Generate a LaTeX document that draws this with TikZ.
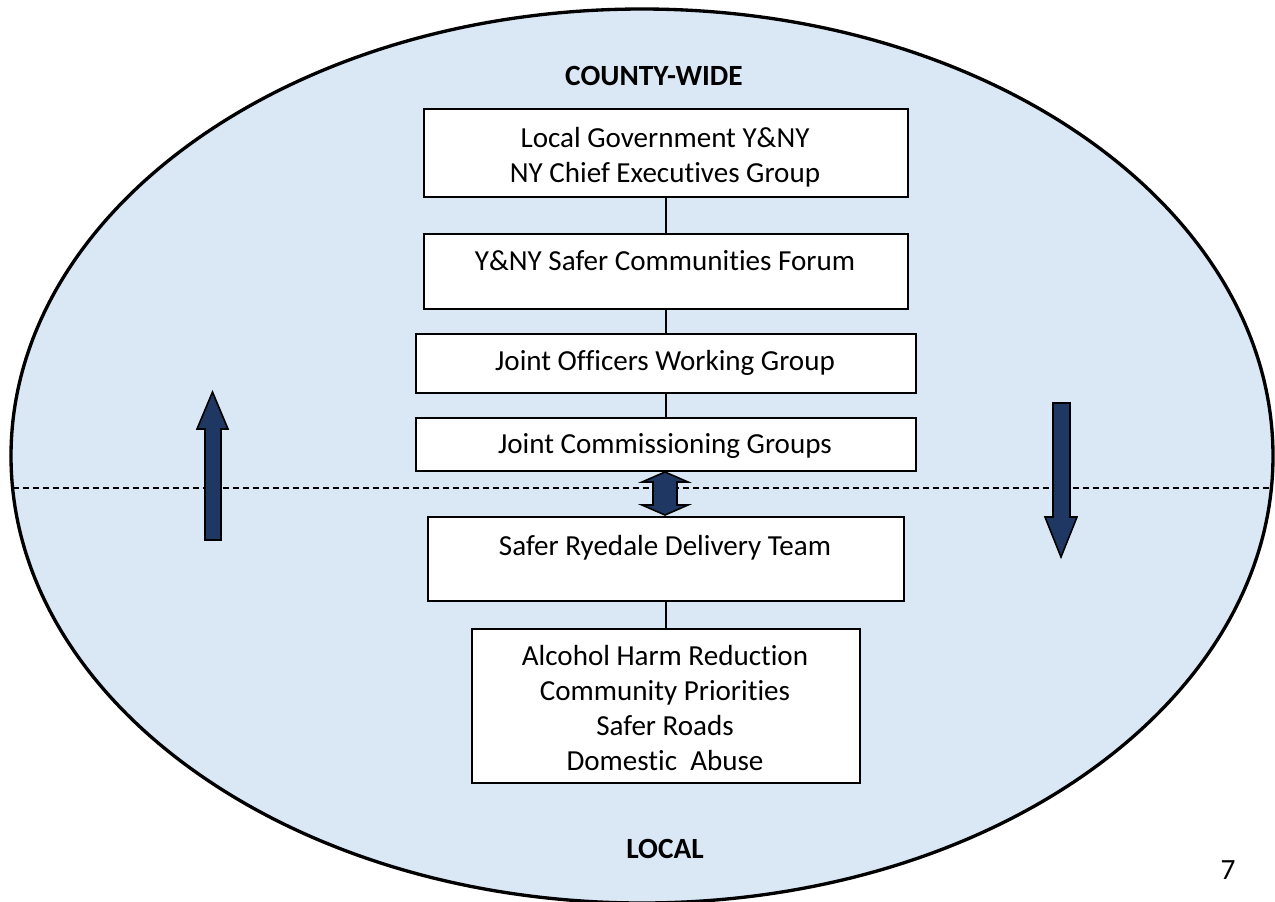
\documentclass[tikz,border=0pt]{standalone}
\usepackage{fontspec}
\setmainfont{Carlito}[Ligatures={NoCommon}]
\definecolor{bgblue}{RGB}{218,232,246}
\definecolor{navy}{RGB}{31,56,99}
\tikzset{
  box/.style={draw=black, fill=white, line width=1.5pt, inner sep=0pt, anchor=north west, rectangle},
  boxtext/.style={inner sep=0pt, anchor=base, font=\fontsize{21.8pt}{26.4pt}\selectfont},
  headtext/.style={inner sep=0pt, anchor=base, font=\fontsize{22pt}{26pt}\selectfont\bfseries},
  link/.style={draw=black, line width=1.3pt},
  bigarrow/.style={fill=navy, draw=black, line width=1.2pt, line join=miter},
  divider/.style={draw=black, line width=1pt, dash pattern=on 4.5pt off 3pt}
}
\begin{document}
\begin{tikzpicture}[x=0.75pt,y=-0.75pt]
\useasboundingbox (0,0) rectangle (1275,901);
% outer ellipse
\fill[bgblue] (642,456) ellipse [x radius=473.25pt, y radius=335.25pt];
\draw[line width=2.5pt] (642,456) ellipse [x radius=473.25pt, y radius=335.25pt];

% dashed divider
\coordinate (dl) at (12.6,488);
\coordinate (dr) at (1271,488);
\draw[divider] (dl) -- (dr);

% boxes
\node[box, minimum width=363pt, minimum height=66pt] (b1) at (423,108) {};
\node[box, minimum width=363pt, minimum height=56.25pt] (b2) at (423,233) {};
\node[box, minimum width=375pt, minimum height=44.25pt] (b3) at (415,333) {};
\node[box, minimum width=375pt, minimum height=39.75pt] (b4) at (415,417) {};
\node[box, minimum width=357pt, minimum height=63pt] (b5) at (427,516) {};
\node[box, minimum width=291pt, minimum height=115.5pt] (b6) at (471,628) {};

% connectors
\draw[link] (b1.south) -- (b2.north);
\draw[link] (b2.south) -- (b3.north);
\draw[link] (b3.south) -- (b4.north);
\draw[link] (b5.south) -- (b6.north);

% box texts
\node[boxtext] (t1) at (665,147) {\begin{tabular}[t]{@{}c@{}}Local Government Y\&NY\\NY Chief Executives Group\end{tabular}};
\node[boxtext] (t2) at (665,270) {Y\&NY Safer Communities Forum};
\node[boxtext] (t3) at (665,370) {Joint Officers Working Group};
\node[boxtext] (t4) at (665,453) {Joint Commissioning Groups};
\node[boxtext] (t5) at (665,555) {Safer Ryedale Delivery Team};
\node[boxtext] (t6) at (665,665) {\begin{tabular}[t]{@{}c@{}}Alcohol Harm Reduction\\Community Priorities\\Safer Roads\\Domestic\ \ Abuse\end{tabular}};

% headings
\node[headtext] (county) at (654,85) {COUNTY-WIDE};
\node[headtext] (local) at (665,858) {LOCAL};
\node[inner sep=0pt, anchor=base, font=\fontsize{22pt}{26pt}\selectfont] (pg) at (1228,879) {7};

% up arrow (left)
\draw[bigarrow] (205,540) -- (205,429) -- (197,429) -- (212.5,392) -- (228,429) -- (221,429) -- (221,540) -- cycle;
% down arrow (right)
\draw[bigarrow] (1053,403) -- (1053,517) -- (1045,517) -- (1061,557) -- (1077,517) -- (1070,517) -- (1070,403) -- cycle;
% double arrow
\draw[bigarrow] (665,472) -- (688,482) -- (677,482) -- (677,505) -- (688,505) -- (665,515) -- (642,505) -- (653,505) -- (653,482) -- (642,482) -- cycle;
\end{tikzpicture}
\end{document}
